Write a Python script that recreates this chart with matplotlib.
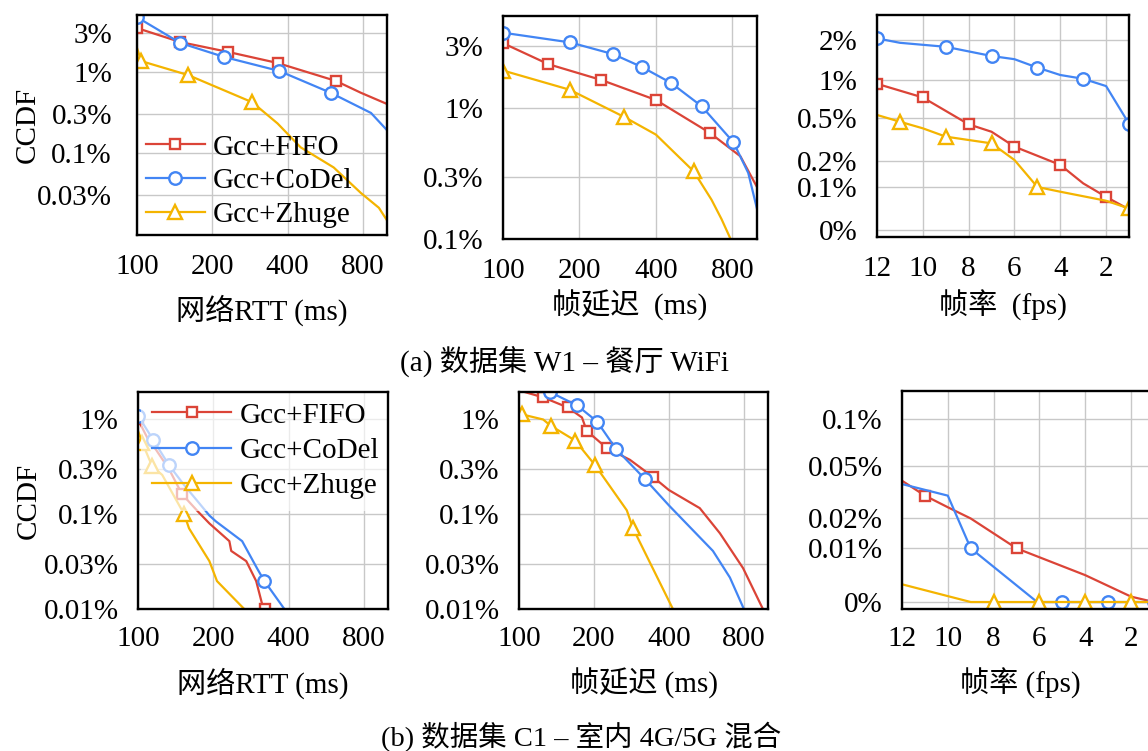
import numpy as np
import matplotlib.pyplot as plt
from matplotlib.ticker import FixedLocator, FixedFormatter, NullLocator

plt.rcParams['font.family'] = ['Liberation Serif', 'Noto Sans CJK SC']
plt.rcParams['font.size'] = 21

labels = ['Gcc+FIFO', 'Gcc+CoDel', 'Gcc+Zhuge']
colors = ['#db4437', '#4285f4', '#f4b400']
markers = ['s', 'o', '^']

# ---- (a) W1: network RTT, CCDF in %
rtt_w1_fifo_x = [100, 149, 232, 365, 624, 786, 1000]
rtt_w1_fifo_y = [3.45, 2.32, 1.75, 1.28, 0.77, 0.55, 0.40]
rtt_w1_codel_x = [100, 149, 223, 371, 595, 863, 1000]
rtt_w1_codel_y = [4.7, 2.26, 1.52, 1.02, 0.55, 0.31, 0.19]
rtt_w1_zhuge_x = [100, 104, 160, 289, 365, 451, 612, 786, 928, 1000]
rtt_w1_zhuge_y = [1.96, 1.35, 0.91, 0.42, 0.23, 0.117, 0.066, 0.032, 0.021, 0.0147]

# ---- (a) W1: frame delay
fd_w1_fifo_x = [100, 151, 244, 400, 652, 860, 1000]
fd_w1_fifo_y = [3.16, 2.18, 1.65, 1.16, 0.65, 0.43, 0.25]
fd_w1_codel_x = [100, 184, 272, 353, 458, 605, 808, 924, 1000]
fd_w1_codel_y = [3.8, 3.2, 2.6, 2.07, 1.57, 1.04, 0.55, 0.32, 0.17]
fd_w1_zhuge_x = [100, 183, 300, 400, 563, 662, 725, 787]
fd_w1_zhuge_y = [1.95, 1.39, 0.86, 0.63, 0.33, 0.2, 0.142, 0.1]

# ---- (a) W1: frame rate
fps_w1_fifo_x = [12, 10, 8, 7, 6, 4, 3, 2, 1]
fps_w1_fifo_y = [0.95, 0.77, 0.456, 0.404, 0.30, 0.185, 0.114, 0.077, 0.048]
fps_w1_codel_x = [12, 11, 9, 7, 6, 5, 4, 3, 2, 1]
fps_w1_codel_y = [2.08, 1.93, 1.83, 1.6, 1.52, 1.31, 1.125, 1.03, 0.92, 0.46]
fps_w1_zhuge_x = [12, 11, 10, 9, 7, 6, 5, 4, 2, 1]
fps_w1_zhuge_y = [0.54, 0.474, 0.428, 0.37, 0.323, 0.207, 0.1, 0.089, 0.068, 0.05]

# ---- (b) C1: network RTT
rtt_c1_fifo_x = [100, 110, 118, 133, 150, 173, 193, 232, 236, 271, 297, 315, 323]
rtt_c1_fifo_y = [1.0, 0.61, 0.48, 0.3, 0.163, 0.108, 0.08, 0.052, 0.041, 0.032, 0.0197, 0.0108, 0.01]
rtt_c1_codel_x = [100, 115, 133, 153, 193, 205, 261, 300, 320, 385]
rtt_c1_codel_y = [1.1, 0.61, 0.33, 0.203, 0.097, 0.084, 0.052, 0.0266, 0.0198, 0.01]
rtt_c1_zhuge_x = [100, 104, 114, 125, 153, 160, 193, 207, 266]
rtt_c1_zhuge_y = [0.76, 0.57, 0.32, 0.26, 0.1, 0.071, 0.032, 0.0197, 0.01]

# ---- (b) C1: frame delay
fd_c1_fifo_x = [100, 125, 157, 179, 187, 225, 279, 345, 400, 532, 641, 794, 954]
fd_c1_fifo_y = [2.03, 1.71, 1.34, 1.05, 0.76, 0.50, 0.375, 0.248, 0.18, 0.116, 0.063, 0.027, 0.01]
fd_c1_codel_x = [133, 171, 206, 245, 320, 400, 601, 703, 800]
fd_c1_codel_y = [1.95, 1.41, 0.95, 0.49, 0.236, 0.124, 0.041, 0.0215, 0.01]
fd_c1_zhuge_x = [100, 103, 125, 134, 168, 202, 271, 287, 415]
fd_c1_zhuge_y = [1.34, 1.13, 1.0, 0.86, 0.60, 0.33, 0.11, 0.071, 0.01]

# ---- (b) C1: frame rate
fps_c1_fifo_x = [12, 11, 10, 9, 7, 4, 2, 1]
fps_c1_fifo_y = [0.0415, 0.033, 0.0264, 0.02, 0.01, 0.005, 0.001, 0.0]
fps_c1_codel_x = [12, 10, 9, 6.1, 5, 4, 3, 2, 1]
fps_c1_codel_y = [0.0396, 0.033, 0.01, 0, 0, 0, 0, 0, 0]
fps_c1_zhuge_x = [12, 9, 8, 6, 4, 2, 1]
fps_c1_zhuge_y = [0.0033, 0, 0, 0, 0, 0, 0]

# which points carry a marker
panels = [
    [(rtt_w1_fifo_x, rtt_w1_fifo_y, [0, 1, 2, 3, 4]),
     (rtt_w1_codel_x, rtt_w1_codel_y, [0, 1, 2, 3, 4]),
     (rtt_w1_zhuge_x, rtt_w1_zhuge_y, [1, 2, 3])],
    [(fd_w1_fifo_x, fd_w1_fifo_y, [0, 1, 2, 3, 4]),
     (fd_w1_codel_x, fd_w1_codel_y, [0, 1, 2, 3, 4, 5, 6]),
     (fd_w1_zhuge_x, fd_w1_zhuge_y, [0, 1, 2, 4])],
    [(fps_w1_fifo_x, fps_w1_fifo_y, [0, 1, 2, 4, 5, 7]),
     (fps_w1_codel_x, fps_w1_codel_y, [0, 2, 3, 5, 7, 9]),
     (fps_w1_zhuge_x, fps_w1_zhuge_y, [1, 3, 4, 6, 9])],
    [(rtt_c1_fifo_x, rtt_c1_fifo_y, [0, 4, 12]),
     (rtt_c1_codel_x, rtt_c1_codel_y, [0, 1, 2, 8]),
     (rtt_c1_zhuge_x, rtt_c1_zhuge_y, [1, 2, 4])],
    [(fd_c1_fifo_x, fd_c1_fifo_y, [1, 2, 4, 5, 7]),
     (fd_c1_codel_x, fd_c1_codel_y, [0, 1, 2, 3, 4]),
     (fd_c1_zhuge_x, fd_c1_zhuge_y, [1, 3, 4, 5, 7])],
    [(fps_c1_fifo_x, fps_c1_fifo_y, [1, 4]),
     (fps_c1_codel_x, fps_c1_codel_y, [2, 4, 6, 8]),
     (fps_c1_zhuge_x, fps_c1_zhuge_y, [2, 3, 4, 5])],
]

W, H = 1148, 751
fig = plt.figure(figsize=(W / 100, H / 100), dpi=100)


def add_axes(l, r, t, b):
    return fig.add_axes([l / W, 1 - b / H, (r - l) / W, (b - t) / H])


def interp_scale(ax, vals, pos):
    # piecewise axis as in the original chart (tick value -> pixel row)
    vals = np.asarray(vals, float)
    pos = -np.asarray(pos, float)
    ax.set_yscale('function', functions=(lambda v: np.interp(v, vals, pos),
                                         lambda p: np.interp(p, pos, vals)))


def style(ax, yticks, ylabels, xpad, ypad):
    ax.yaxis.set_major_locator(FixedLocator(yticks))
    ax.yaxis.set_major_formatter(FixedFormatter(ylabels))
    ax.yaxis.set_minor_locator(NullLocator())
    ax.xaxis.set_minor_locator(NullLocator())
    ax.grid(True, color='#c8c8c8', lw=1.0)
    ax.set_axisbelow(True)
    for s in ax.spines.values():
        s.set_linewidth(1.7)
    ax.tick_params(axis='x', length=0, pad=xpad)
    ax.tick_params(axis='y', length=0, pad=ypad)


def draw(ax, series):
    sizes = [7.5, 9, 10]
    for (x, y, marks), c, m, ms, lab in zip(series, colors, markers, sizes, labels):
        ax.plot(x, y, color=c, lw=1.6, marker=m, markevery=marks, ms=ms,
                mfc='white', mec=c, mew=1.7, label=lab)


def log_x(ax):
    ax.set_xscale('log', base=2)
    ax.set_xlim(100, 1000)
    ax.xaxis.set_major_locator(FixedLocator([100, 200, 400, 800]))
    ax.xaxis.set_major_formatter(FixedFormatter(['100', '200', '400', '800']))


def fps_x(ax):
    ax.set_xlim(12, 1)
    ax.xaxis.set_major_locator(FixedLocator([12, 10, 8, 6, 4, 2]))
    ax.xaxis.set_major_formatter(FixedFormatter(['12', '10', '8', '6', '4', '2']))


# ---------------- row (a)
a1 = add_axes(137, 387, 15, 235)
draw(a1, panels[0])
log_x(a1)
a1.set_yscale('log')
a1.set_ylim(0.0097, 5)
style(a1, [3, 1, 0.3, 0.1, 0.03], ['3%', '1%', '0.3%', '0.1%', '0.03%'], 14, 18)
a1.set_ylabel('CCDF')
a1.yaxis.set_label_coords(-0.385, 0.5)
a1.set_xlabel('网络RTT (ms)')
a1.xaxis.set_label_coords(0.5, -0.27)
a1.legend(loc='center left', bbox_to_anchor=(-0.01, 0.245), frameon=False,
          handlelength=2.0, handletextpad=0.3, labelspacing=0.25,
          borderaxespad=0.0, fontsize=21)

a2 = add_axes(503, 757, 16, 239)
draw(a2, panels[1])
log_x(a2)
a2.set_yscale('log')
a2.set_ylim(0.1, 5.1)
style(a2, [3, 1, 0.3, 0.1], ['3%', '1%', '0.3%', '0.1%'], 14, 14)
a2.set_xlabel('帧延迟  (ms)')
a2.xaxis.set_label_coords(0.5, -0.23)

a3 = add_axes(877, 1129, 15, 237)
interp_scale(a3, [-1, 0, 0.1, 0.2, 0.5, 1, 2, 10],
             [660, 230, 187, 161, 118, 80, 40, -120])
draw(a3, panels[2])
fps_x(a3)
a3.set_ylim(-0.0163, 3.25)
style(a3, [2, 1, 0.5, 0.2, 0.1, 0], ['2%', '1%', '0.5%', '0.2%', '0.1%', '0%'], 14, 14)
a3.set_xlabel('帧率  (fps)')
a3.xaxis.set_label_coords(0.5, -0.24)

# ---------------- row (b)
b1 = add_axes(138, 388, 392, 609)
draw(b1, panels[3])
log_x(b1)
b1.set_yscale('log')
b1.set_ylim(0.01, 1.95)
style(b1, [1, 0.3, 0.1, 0.03, 0.01], ['1%', '0.3%', '0.1%', '0.03%', '0.01%'], 12, 14)
b1.set_ylabel('CCDF')
b1.yaxis.set_label_coords(-0.385, 0.5)
b1.set_xlabel('网络RTT (ms)')
b1.xaxis.set_label_coords(0.5, -0.27)
leg = b1.legend(loc='center left', bbox_to_anchor=(0.01, 0.73), frameon=True,
                fancybox=False, framealpha=0.65, edgecolor='none',
                handlelength=2.7, handletextpad=0.3, labelspacing=0.3,
                borderaxespad=0.0, fontsize=21)
leg.set_zorder(2.2)

b2 = add_axes(519, 768, 392, 609)
draw(b2, panels[4])
log_x(b2)
b2.set_yscale('log')
b2.set_ylim(0.01, 1.95)
style(b2, [1, 0.3, 0.1, 0.03, 0.01], ['1%', '0.3%', '0.1%', '0.03%', '0.01%'], 12, 14)
b2.set_xlabel('帧延迟 (ms)')
b2.xaxis.set_label_coords(0.5, -0.27)

b3 = add_axes(902, 1154, 391, 609)
interp_scale(b3, [-1, 0, 0.01, 0.02, 0.05, 0.1, 1],
             [6002, 602, 548, 518, 465, 418, -428])
draw(b3, panels[5])
fps_x(b3)
b3.set_ylim(-0.0013, 0.13)
style(b3, [0.1, 0.05, 0.02, 0.01, 0], ['0.1%', '0.05%', '0.02%', '0.01%', '0%'], 12, 14)
b3.set_xlabel('帧率 (fps)')
b3.xaxis.set_label_coords(0.47, -0.27)

fig.text(565 / W, 1 - 361 / H, '(a) 数据集 W1 – 餐厅 WiFi', ha='center', va='center', fontsize=21)
fig.text(581 / W, 1 - 737 / H, '(b) 数据集 C1 – 室内 4G/5G 混合', ha='center', va='center', fontsize=20.5)

fig.savefig('out.png', dpi=100)
